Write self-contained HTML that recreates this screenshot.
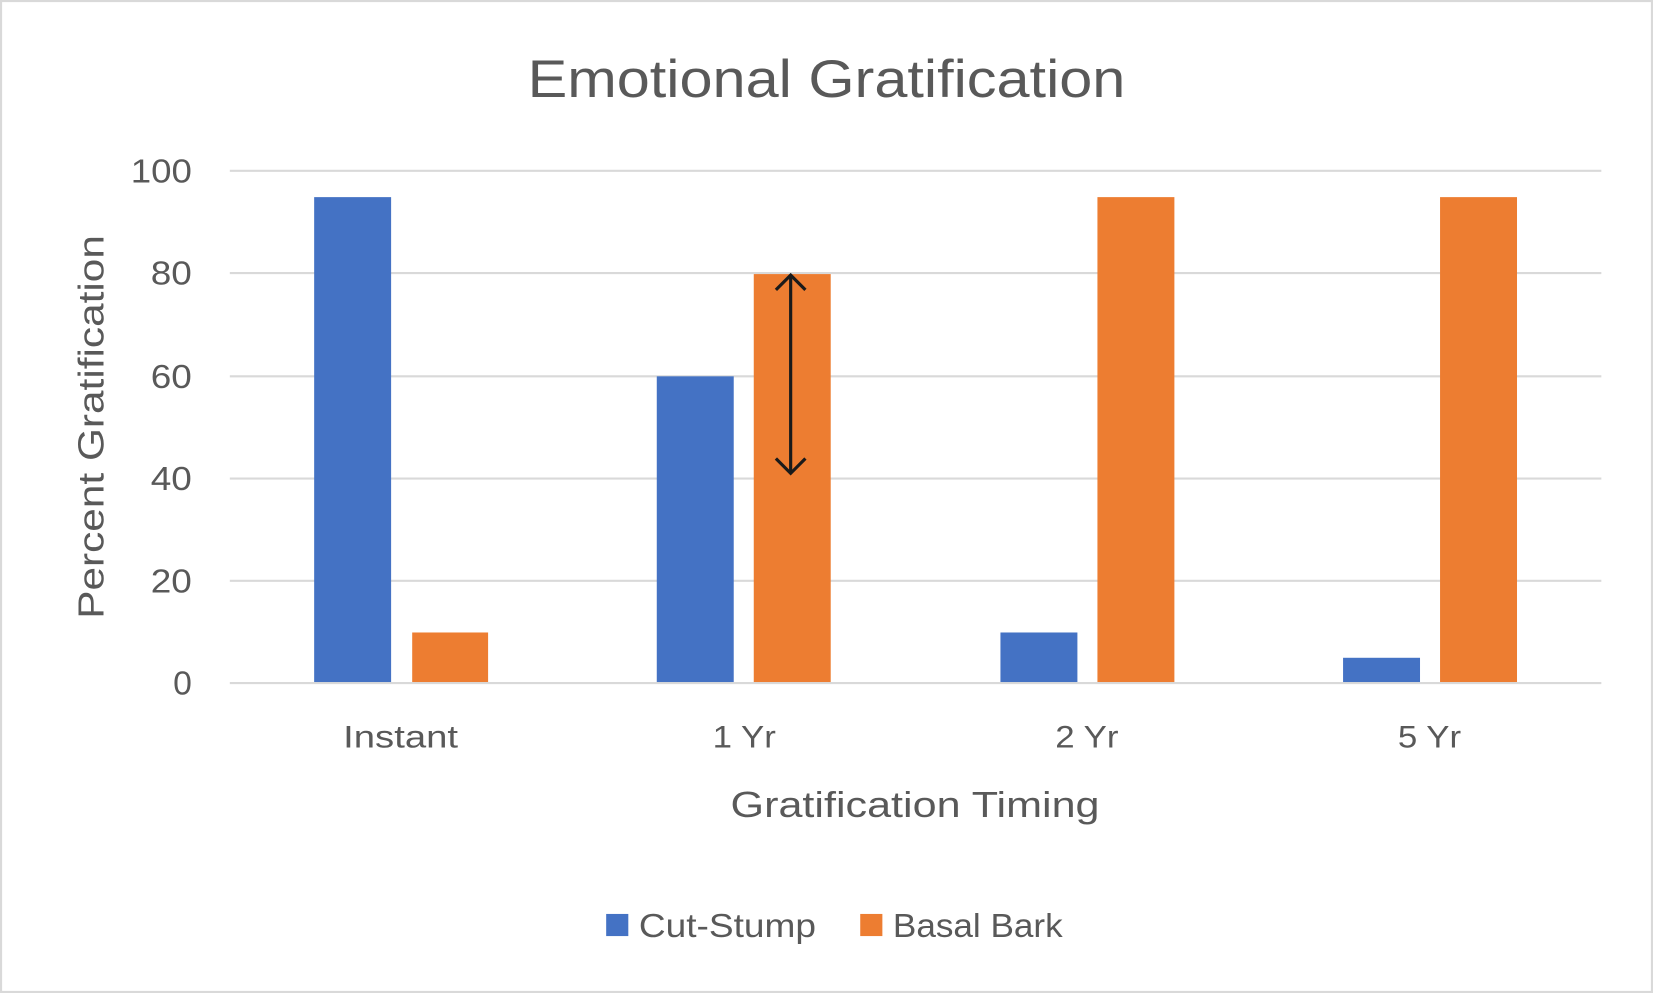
<!DOCTYPE html>
<html><head><meta charset="utf-8"><style>
html,body{margin:0;padding:0;background:#fff;}
svg{display:block;}
text{font-family:"Liberation Sans",sans-serif;fill:#595959;}
</style></head><body>
<svg width="1653" height="993" viewBox="0 0 1568 942" preserveAspectRatio="none" xmlns="http://www.w3.org/2000/svg">
<rect x="1" y="1" width="1566" height="940" fill="#fff" stroke="#d9d9d9" stroke-width="2"/>
<text x="784" y="92" font-size="50" text-anchor="middle" textLength="567" lengthAdjust="spacingAndGlyphs">Emotional Gratification</text>
<g stroke="#d9d9d9" stroke-width="2">
<line x1="218" y1="162" x2="1519" y2="162"/>
<line x1="218" y1="259" x2="1519" y2="259"/>
<line x1="218" y1="357" x2="1519" y2="357"/>
<line x1="218" y1="454" x2="1519" y2="454"/>
<line x1="218" y1="551" x2="1519" y2="551"/>
<line x1="218" y1="648" x2="1519" y2="648"/>
</g>
<g font-size="32" text-anchor="end">
<text x="182" y="173" textLength="58" lengthAdjust="spacingAndGlyphs">100</text>
<text x="182" y="270" textLength="39" lengthAdjust="spacingAndGlyphs">80</text>
<text x="182" y="368" textLength="39" lengthAdjust="spacingAndGlyphs">60</text>
<text x="182" y="465" textLength="39" lengthAdjust="spacingAndGlyphs">40</text>
<text x="182" y="562" textLength="39" lengthAdjust="spacingAndGlyphs">20</text>
<text x="182" y="659">0</text>
</g>
<g fill="#4472c4">
<rect x="298" y="187" width="73" height="460"/>
<rect x="623" y="357" width="73" height="290"/>
<rect x="949" y="600" width="73" height="47"/>
<rect x="1274" y="624" width="73" height="23"/>
</g>
<g fill="#ed7d31">
<rect x="391" y="600" width="72" height="47"/>
<rect x="715" y="260" width="73" height="387"/>
<rect x="1041" y="187" width="73" height="460"/>
<rect x="1366" y="187" width="73" height="460"/>
</g>
<g stroke="#1a1a1a" stroke-width="3" fill="none">
<line x1="750" y1="261" x2="750" y2="449"/>
<polyline points="736,275 750,261 764,275"/>
<polyline points="736,435 750,449 764,435"/>
</g>
<g font-size="30" text-anchor="middle">
<text x="380" y="709" textLength="109" lengthAdjust="spacingAndGlyphs">Instant</text>
<text x="706" y="709" textLength="60" lengthAdjust="spacingAndGlyphs">1 Yr</text>
<text x="1031" y="709" textLength="60" lengthAdjust="spacingAndGlyphs">2 Yr</text>
<text x="1356" y="709" textLength="60" lengthAdjust="spacingAndGlyphs">5 Yr</text>
</g>
<text x="868" y="775" font-size="34" text-anchor="middle" textLength="350" lengthAdjust="spacingAndGlyphs">Gratification Timing</text>
<text transform="translate(98,405) rotate(-90)" font-size="34" text-anchor="middle" textLength="364" lengthAdjust="spacingAndGlyphs">Percent Gratification</text>
<rect x="575" y="867" width="21" height="21" fill="#4472c4"/>
<text x="606" y="889" font-size="32" textLength="168" lengthAdjust="spacingAndGlyphs">Cut-Stump</text>
<rect x="816" y="867" width="21" height="21" fill="#ed7d31"/>
<text x="847" y="889" font-size="32" textLength="161" lengthAdjust="spacingAndGlyphs">Basal Bark</text>
</svg>
</body></html>
